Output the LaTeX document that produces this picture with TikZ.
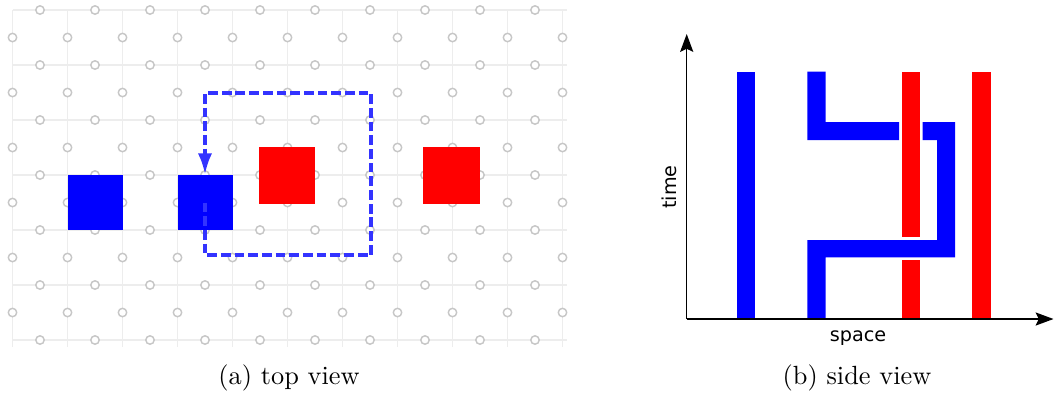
\documentclass[tikz,border=0pt]{standalone}
\usepackage{fontspec}
\newfontfamily\dejavu{DejaVu Sans}
\usetikzlibrary{arrows.meta}
\begin{document}
\begin{tikzpicture}[x=0.38pt,y=-0.38pt,
  gridline/.style={draw=black!7, line width=0.5pt},
  gdot/.style={draw=black!22, fill=white, line width=0.55pt},
  bluesq/.style={fill=blue, draw=none, inner sep=0pt, minimum size=20.9pt},
  redsq/.style={fill=red, draw=none, inner sep=0pt, minimum size=21.3pt},
  movepath/.style={draw=blue!80, line width=1.3pt, dash pattern=on 3.7pt off 1.5pt,
    -{Latex[length=8pt,width=5.4pt]}},
  bluebar/.style={fill=blue, draw=none},
  redbar/.style={fill=red, draw=none},
  axisline/.style={draw=black, line width=0.5pt, -{Stealth[length=6.8pt,width=5pt,inset=1.2pt]}},
  axislabel/.style={font=\dejavu\fontsize{7.3}{8}\selectfont, inner sep=0pt},
  caption/.style={font=\fontsize{10}{12}\selectfont, inner sep=0pt}
]
\useasboundingbox (0,0) rectangle (1054,392);

% ---------- top view grid ----------
\foreach \i in {0,...,10}
  \draw[gridline] (12.5+55*\i,10) -- (12.5+55*\i,347);
\foreach \j in {0,...,6}
  \draw[gridline] (12.5,10+55*\j) -- (567,10+55*\j);
% dots on horizontal lines
\foreach \j in {0,...,6}
  \foreach \i in {0,...,9}
    \draw[gdot] (40+55*\i,10+55*\j) circle[radius=1.6pt];
% dots on vertical lines
\foreach \j in {0,...,5}
  \foreach \i in {0,...,10}
    \draw[gdot] (12.5+55*\i,37.5+55*\j) circle[radius=1.6pt];

% ---------- agents ----------
\node[bluesq] (b1) at (95,202.5) {};
\node[bluesq] (b2) at (205,202.5) {};
\node[redsq] (r1) at (287,175.5) {};
\node[redsq] (r2) at (451.5,175.5) {};

\coordinate (p1) at (205,255);
\coordinate (p2) at (371,255);
\coordinate (p3) at (371,93);
\coordinate (p4) at (205,93);
\draw[movepath] (b2.center) -- (p1) -- (p2) -- (p3) -- (p4) -- (b2.north);

\node[caption] (capa) at (289,378) {(a) top view};

% ---------- side view ----------
% blue straight line
\fill[bluebar] (736.7,71.7) rectangle (755,319);
% red straight line
\fill[redbar] (972.3,71.7) rectangle (990.7,319);
% red line interrupted
\fill[redbar] (901.7,71.7) rectangle (920,236.7);
\fill[redbar] (901.7,260) rectangle (920,319);
% blue moving agent
\fill[bluebar] (807.3,71.7) -- (825.7,71.7) -- (825.7,122) -- (899,122) -- (899,140) -- (807.3,140) -- cycle;
\fill[bluebar] (922.7,122) -- (955,122) -- (955,257.3) -- (825.7,257.3) -- (825.7,319)
  -- (807.3,319) -- (807.3,240) -- (937,240) -- (937,140) -- (922.7,140) -- cycle;

% axes
\coordinate (o) at (686.7,319);
\coordinate (ytip) at (686.7,34);
\coordinate (xtip) at (1053.5,319);
\draw[axisline] (o) -- (ytip);
\draw[axisline] (o) -- (xtip);
\node[axislabel] (sp) at (858,338) {space};
\node[axislabel, rotate=90] (tm) at (669,187) {time};

\node[caption] (capb) at (857,378) {(b) side view};
\end{tikzpicture}
\end{document}
